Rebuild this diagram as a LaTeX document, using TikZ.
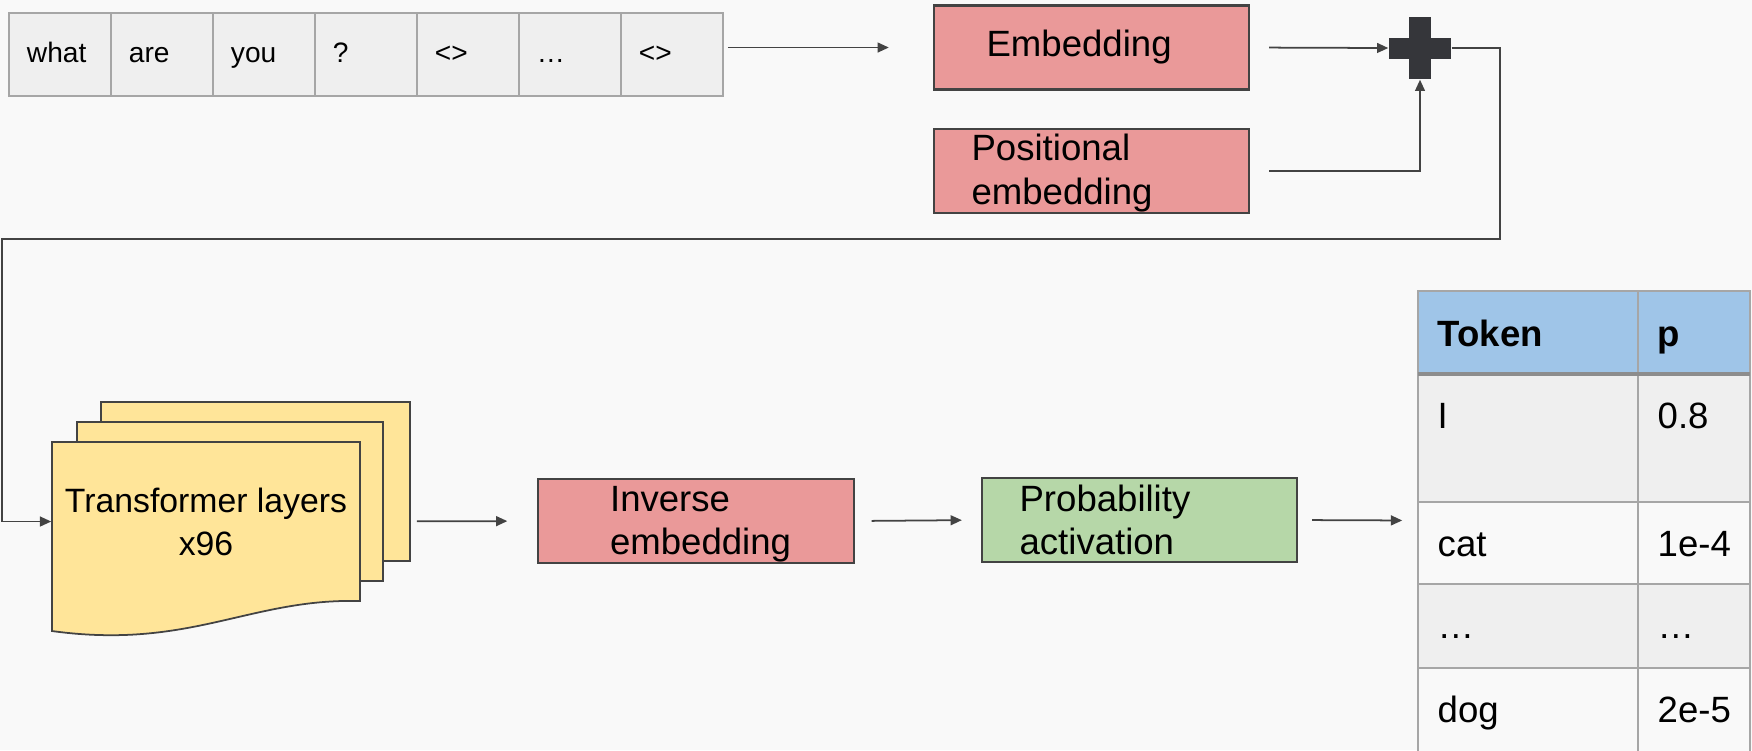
\documentclass[tikz,border=0pt]{standalone}
\usepackage{fontspec}
\setmainfont{Liberation Sans}
\usetikzlibrary{arrows.meta}

\definecolor{bgcol}{HTML}{F9F9F9}
\definecolor{cellgray}{HTML}{EFEFEF}
\definecolor{gridgray}{HTML}{A6A6A6}
\definecolor{linegray}{HTML}{434343}
\definecolor{embred}{HTML}{EA9999}
\definecolor{probgreen}{HTML}{B6D7A8}
\definecolor{layeryellow}{HTML}{FFE599}
\definecolor{headblue}{HTML}{9FC5E8}
\definecolor{plusdark}{HTML}{35363A}

\tikzset{
  flow/.style={-{Triangle[length=3.2pt,width=2.8pt]}, draw=linegray, line width=0.5pt},
  tokcell/.style={rectangle, draw=gridgray, fill=cellgray, line width=0.5pt, minimum height=0.83cm,
    text width=0.66cm, inner xsep=0.18cm, text height=6.3pt, text depth=2pt, align=left,
    font=\fontsize{8}{9.6}\selectfont},
  box/.style={rectangle, draw=linegray, line width=0.6pt, minimum width=3.15cm, minimum height=0.84cm, inner sep=0},
  boxtext/.style={anchor=west, inner sep=0, align=left, font=\fontsize{10.4}{12.4}\selectfont},
  layerfill/.style={fill=layeryellow, draw=linegray, line width=0.5pt},
  tabcell/.style={draw=gridgray, line width=0.5pt},
  celltext/.style={anchor=base west, inner sep=0, font=\fontsize{10.4}{12.4}\selectfont}
}

\begin{document}
\begin{tikzpicture}[x=0.01cm, y=-0.01cm]
    \useasboundingbox (0,0) rectangle (1752,750);
    \fill[bgcol] (0,0) rectangle (1752,750);

    % input tokens
    \foreach \w [count=\i from 0] in {what,are,you,?,<>,…,<>} {
        \node[tokcell] (tok\i) at (60+102*\i, 54.5) {\w};
    }

    \node[box, fill=embred] (emb) at (1091.5,47.5) {};
    \node[boxtext] (embtxt) at ([xshift=0.53cm]emb.west) {Embedding};
    \node[box, fill=embred] (pos) at (1091.5,171) {};
    \node[boxtext] (postxt) at ([xshift=0.38cm, yshift=-0.02cm]pos.west) {Positional\\embedding};

    % the plus sign
    \node[minimum size=0.62cm, inner sep=0] (plus) at (1420,48) {};
    \fill[plusdark] (plus)++(-11,-31) rectangle ++(22,62);
    \fill[plusdark] (plus)++(-31,-10.5) rectangle ++(62,21);

    % stacked transformer layers
    \filldraw[layerfill] (101,402) rectangle (410,561);
    \filldraw[layerfill] (77,422) rectangle (383,581);
    \filldraw[layerfill] (52,442) -- (360,442) -- (360,601) .. controls (250,598) and (190,650) .. (52,631) -- cycle;
    \node[align=center, inner sep=0, minimum width=3.08cm, minimum height=1.59cm,
        font=\fontsize{9.6}{12.2}\selectfont] (layers) at (206,521.5) {Transformer layers\\x96};

    \node[box, fill=embred] (inv) at (696,521) {};
    \node[boxtext] (invtxt) at ([xshift=0.72cm, yshift=-0.03cm]inv.west) {Inverse\\embedding};
    \node[box, fill=probgreen] (prob) at (1139.5,520) {};
    \node[boxtext] (probtxt) at ([xshift=0.38cm]prob.west) {Probability\\activation};

    % output table
    \node[minimum width=3.32cm, minimum height=4.59cm, inner sep=0] (probtab) at (1584,520.5) {};
    \filldraw[tabcell, fill=headblue] (1418,291) rectangle (1638,373);
    \filldraw[tabcell, fill=headblue] (1638,291) rectangle (1750,373);
    \node[celltext, font=\fontsize{10.4}{12.4}\selectfont\bfseries] (tokhead) at (1437,346) {Token};
    \node[celltext, font=\fontsize{10.4}{12.4}\selectfont\bfseries] (phead) at (1657,346) {p};
    \foreach \tk/\pv/\rowtop/\rowht/\fc [count=\r] in {I/0.8/374/128/cellgray, cat/1e-4/502/82/bgcol, …/…/584/84/cellgray, dog/2e-5/668/84/bgcol} {
        \filldraw[tabcell, fill=\fc] (1418,\rowtop) rectangle (1638,\rowtop+\rowht);
        \filldraw[tabcell, fill=\fc] (1638,\rowtop) rectangle (1750,\rowtop+\rowht);
        \node[celltext] (tk\r) at (1437,\rowtop+54) {\tk};
        \node[celltext] (pv\r) at (1657,\rowtop+54) {\pv};
    }
    \draw[draw=gridgray!85!black, line width=1.3pt] (1418,374) -- (1750,374);

    % connectors
    \coordinate (bendR) at (1500,239);
    \coordinate (bendL) at (2,239);
    \draw[flow, shorten <=0.04cm, shorten >=0.44cm] (tok6.east |- emb.west) -- (emb.west);
    \draw[flow, shorten <=0.19cm] (emb.east) -- (plus.west);
    \draw[flow, shorten <=0.19cm] (pos.east) -| (plus.south);
    \draw[flow] (plus.east) -| (bendR) -- (bendL) |- (layers.west);
    \draw[flow, shorten <=0.56cm, shorten >=0.30cm] (layers.east) -- (inv.west);
    \draw[flow, shorten <=0.17cm, shorten >=0.19cm] (inv.east) -- (prob.west);
    \draw[flow, shorten <=0.14cm, shorten >=0.15cm] (prob.east) -- (probtab.west);
\end{tikzpicture}
\end{document}
